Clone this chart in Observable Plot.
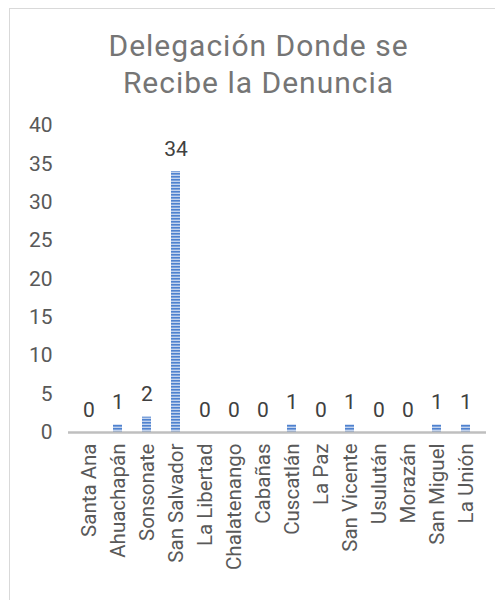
<!DOCTYPE html>
<html>
<head>
<meta charset="utf-8">
<script src="https://cdn.jsdelivr.net/npm/d3@7"></script>
<script src="https://cdn.jsdelivr.net/npm/@observablehq/plot@0.6"></script>
<style>
  html, body { margin: 0; padding: 0; background: #fff; overflow: hidden; }
  #frame { position: absolute; left: 9px; top: 8px; width: 520px; height: 620px; border: 1.5px solid #d9d9d9; box-sizing: border-box; }
  #title { position: absolute; left: 0; top: 27px; width: 517px; text-align: center; font-family: Roboto, sans-serif; font-size: 30px; letter-spacing: 1px; line-height: 37px; color: #757575; }
  #chart { position: absolute; left: 0; top: 110px; }
</style>
</head>
<body>
<div id="frame"></div>
<div id="title">Delegación Donde se<br>Recibe la Denuncia</div>
<div id="chart"></div>
<script>
const departments = ["Santa Ana","Ahuachapán","Sonsonate","San Salvador","La Libertad","Chalatenango","Cabañas","Cuscatlán","La Paz","San Vicente","Usulután","Morazán","San Miguel","La Unión"];
const counts = [0,1,2,34,0,0,0,1,0,1,0,0,1,1];
const yTicks = [0,5,10,15,20,25,30,35,40];

const data = departments.map((d, i) => ({dept: d, value: counts[i]}));

const chart = Plot.plot({
  width: 495,
  height: 490,
  marginTop: 15,
  marginBottom: 168,
  marginLeft: 68,
  marginRight: 9,
  style: {fontFamily: "Roboto, sans-serif", fontSize: "21px", color: "#595959", background: "transparent"},
  x: {domain: departments, paddingInner: 0.68, paddingOuter: 0.34, label: null},
  y: {domain: [0, 40], label: null},
  marks: [
    Plot.barY(data, {x: "dept", y: "value", fill: "url(#stripes)"}),
    Plot.ruleY([0], {stroke: "#bfbfbf", strokeWidth: 2.5}),
    Plot.text(data, {x: "dept", y: "value", text: d => String(d.value), dy: -16, lineAnchor: "bottom", fill: "#404040", fontSize: 21}),
    Plot.axisY({ticks: yTicks, tickSize: 0, tickPadding: 16, label: null, fontSize: 21, fill: "#595959"}),
    Plot.axisX({tickSize: 0, tickRotate: -90, tickPadding: 11, label: null, fontSize: 20.5, fill: "#595959"})
  ]
});

const defs = d3.select(chart).insert("defs", ":first-child");
const pat = defs.append("pattern").attr("id", "stripes").attr("patternUnits", "userSpaceOnUse").attr("width", 10).attr("height", 3);
pat.append("rect").attr("width", 10).attr("height", 3).attr("fill", "#c2d3ee");
pat.append("rect").attr("width", 10).attr("height", 1.6).attr("fill", "#4f82cf");

document.getElementById("chart").appendChild(chart);
</script>
</body>
</html>
